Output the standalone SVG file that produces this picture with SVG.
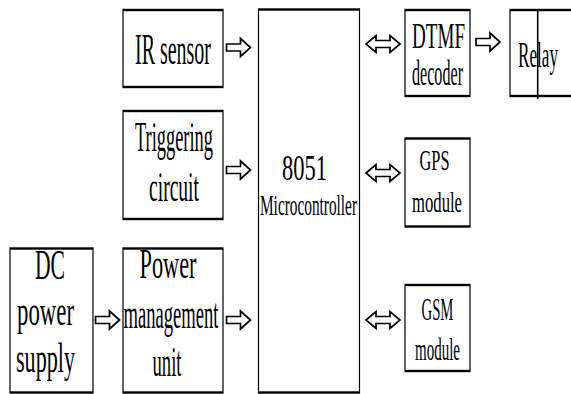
<svg xmlns="http://www.w3.org/2000/svg" width="571" height="394" viewBox="0 0 571 394">
<style>
.box{fill:#fff;stroke:#000;stroke-width:1.2}
.t{font-family:"Liberation Serif","Times New Roman",serif;fill:#000}
.arr{fill:#fff;stroke:#000;stroke-width:1.7;stroke-linejoin:miter}
</style>
<defs>
<path id="ra" class="arr" d="M0,-3.5 H14 V-9 L24,0 L14,9 V3.5 H0 Z"/>
<path id="ba" class="arr" d="M0,0 L10,-8.5 V-3.5 H24 V-8.5 L34,0 L24,8.5 V3.5 H10 V8.5 Z"/>
</defs>
<rect width="571" height="394" fill="#fff"/>
<g id="ir">
<rect class="box" x="123" y="5" width="100" height="38.5" transform="scale(1 2)"/>
<text class="t" x="135" y="64" font-size="44" textLength="76" lengthAdjust="spacingAndGlyphs">IR sensor</text>
</g>
<g id="trig">
<rect class="box" x="123" y="55.5" width="100" height="54" transform="scale(1 2)"/>
<text class="t" x="135" y="151" font-size="43" textLength="78" lengthAdjust="spacingAndGlyphs">Triggering</text>
<text class="t" x="149" y="201" font-size="43" textLength="50" lengthAdjust="spacingAndGlyphs">circuit</text>
</g>
<g id="mcu">
<rect class="box" x="258.5" y="4.75" width="101" height="191.5" transform="scale(1 2)"/>
<text class="t" x="282" y="180" font-size="35" textLength="45" lengthAdjust="spacingAndGlyphs">8051</text>
<text class="t" x="260" y="215" font-size="30" textLength="97" lengthAdjust="spacingAndGlyphs">Microcontroller</text>
</g>
<g id="dtmf">
<rect class="box" x="405" y="5" width="65" height="43" transform="scale(1 2)"/>
<text class="t" x="412" y="48" font-size="35" textLength="53" lengthAdjust="spacingAndGlyphs">DTMF</text>
<text class="t" x="412" y="85" font-size="35" textLength="51" lengthAdjust="spacingAndGlyphs">decoder</text>
</g>
<g id="relay">
<rect class="box" x="510" y="5" width="70" height="43" transform="scale(1 2)"/>
<text class="t" x="518" y="66.5" font-size="35" textLength="40" lengthAdjust="spacingAndGlyphs">Relay</text>
<line x1="537.7" y1="10" x2="537.7" y2="99" stroke="#000" stroke-width="1.6"/>
</g>
<g id="gps">
<rect class="box" x="405" y="69.25" width="65" height="44" transform="scale(1 2)"/>
<text class="t" x="419.5" y="170" font-size="30" textLength="30" lengthAdjust="spacingAndGlyphs">GPS</text>
<text class="t" x="412" y="211.5" font-size="30" textLength="50" lengthAdjust="spacingAndGlyphs">module</text>
</g>
<g id="gsm">
<rect class="box" x="405" y="142.5" width="65" height="43" transform="scale(1 2)"/>
<text class="t" x="421.5" y="319.5" font-size="32" textLength="32" lengthAdjust="spacingAndGlyphs">GSM</text>
<text class="t" x="415" y="360" font-size="32" textLength="45" lengthAdjust="spacingAndGlyphs">module</text>
</g>
<g id="dc">
<rect class="box" x="10" y="124.25" width="83" height="72" transform="scale(1 2)"/>
<text class="t" x="35" y="278.5" font-size="43" textLength="30" lengthAdjust="spacingAndGlyphs">DC</text>
<text class="t" x="17" y="325" font-size="43" textLength="57" lengthAdjust="spacingAndGlyphs">power</text>
<text class="t" x="16" y="371.5" font-size="43" textLength="59" lengthAdjust="spacingAndGlyphs">supply</text>
</g>
<g id="pmu">
<rect class="box" x="123" y="124.25" width="100" height="72" transform="scale(1 2)"/>
<text class="t" x="139.5" y="277.5" font-size="43" textLength="57" lengthAdjust="spacingAndGlyphs">Power</text>
<text class="t" x="123.5" y="328" font-size="43" textLength="95" lengthAdjust="spacingAndGlyphs">management</text>
<text class="t" x="152.5" y="376" font-size="43" textLength="29" lengthAdjust="spacingAndGlyphs">unit</text>
</g>
<g id="connectors">
<use href="#ra" x="226.5" y="47.5"/>
<use href="#ra" x="226.5" y="170"/>
<use href="#ra" x="95.5" y="320"/>
<use href="#ra" x="226.5" y="320"/>
<use href="#ra" x="476" y="42"/>
<use href="#ba" x="366" y="44"/>
<use href="#ba" x="366" y="173"/>
<use href="#ba" x="366" y="320"/>
</g>
</svg>
